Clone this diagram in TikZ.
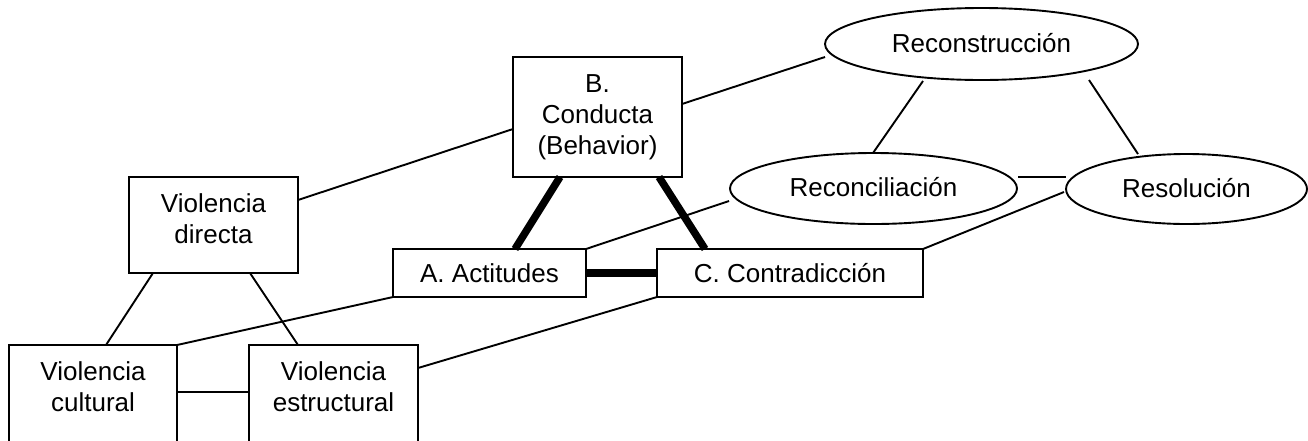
\documentclass[tikz,border=0pt]{standalone}
\usepackage{fontspec}
\setmainfont{Liberation Sans}
\usetikzlibrary{shapes.geometric,calc}
\begin{document}
\begin{tikzpicture}[x=1pt,y=1pt]
\tikzset{
 every node/.style={font=\fontsize{26}{31}\selectfont},
 box/.style={draw, rectangle, line width=1.9pt, inner sep=0pt, outer sep=0pt, align=center},
 oval/.style={draw, ellipse, line width=1.9pt, inner sep=0pt, outer sep=0pt, text height=18pt, text depth=2pt},
 lbl/.style={align=center, inner sep=0pt},
 link/.style={line width=1.9pt},
 strong/.style={line width=7.5pt},
}
\useasboundingbox (0,0) rectangle (1308,-440);
\clip (0,0) rectangle (1308,-440);
% boxes
\node[box, minimum width=169pt, minimum height=96pt] (dir) at (213.5,-225) {};
\node[lbl] (dirT) at (213.5,-218.5) {Violencia\\directa};
\node[box, anchor=north, minimum width=168pt, minimum height=130pt] (cul) at (93,-345) {};
\node[lbl] (culT) at (93,-387) {Violencia\\cultural};
\node[box, anchor=north, minimum width=169pt, minimum height=130pt] (est) at (333.5,-345) {};
\node[lbl] (estT) at (333.5,-387) {Violencia\\estructural};
\node[box, minimum width=169pt, minimum height=120pt] (B) at (597.5,-117) {B.\\Conducta\\(Behavior)};
\node[box, minimum width=193pt, minimum height=48pt, text height=18.5pt, text depth=0pt] (A) at (489.5,-273) {A. Actitudes};
\node[box, minimum width=266pt, minimum height=48pt, text height=18.5pt, text depth=0pt] (C) at (790,-273) {C. Contradicción};
% ellipses
\node[oval, minimum width=313pt, minimum height=72pt] (Rc) at (981.5,-44) {Reconstrucción};
\node[oval, minimum width=287pt, minimum height=71pt] (Ri) at (873.5,-188.5) {Reconciliación};
\node[oval, minimum width=241pt, minimum height=70pt] (Rs) at (1186.5,-189) {Resolución};
% thin connectors
\draw[link] ([xshift=-60.5pt]dir.south) -- ([xshift=13pt]cul.north);
\draw[link] ([xshift=36.5pt]dir.south) -- ([xshift=-35.5pt]est.north);
\draw[link] ([yshift=-47pt]cul.north east) -- ([yshift=-47pt]est.north west);
\draw[link] (cul.north east) -- (A.south west);
\draw[link] ([yshift=-23pt]est.north east) -- (C.south west);
\draw[link] ([yshift=-23pt]dir.north east) -- ([yshift=-72pt]B.north west);
\draw[link] ([yshift=-47pt]B.north east) -- ($(Rc.center)+(-156.5,-13)$);
\draw[link] (A.north east) -- ($(Ri.center)+(-144.5,-12.5)$);
\draw[link] (C.north east) -- ($(Rs.center)+(-122.5,-3)$);
\draw[link] ($(Rc.center)+(-58.5,-37)$) -- ($(Ri.center)+(-0.5,35.5)$);
\draw[link] ($(Rc.center)+(107.5,-36)$) -- ($(Rs.center)+(-48.5,35)$);
\draw[link] ($(Ri.center)+(144.5,11.5)$) -- ($(Rs.center)+(-120.5,12)$);
% thick connectors
\draw[strong] ([xshift=-37.5pt]B.south) -- ([xshift=25.5pt]A.north);
\draw[strong] ([xshift=61.5pt]B.south) -- ([xshift=-85pt]C.north);
\draw[strong] (A.east) -- (C.west);
\end{tikzpicture}
\end{document}
